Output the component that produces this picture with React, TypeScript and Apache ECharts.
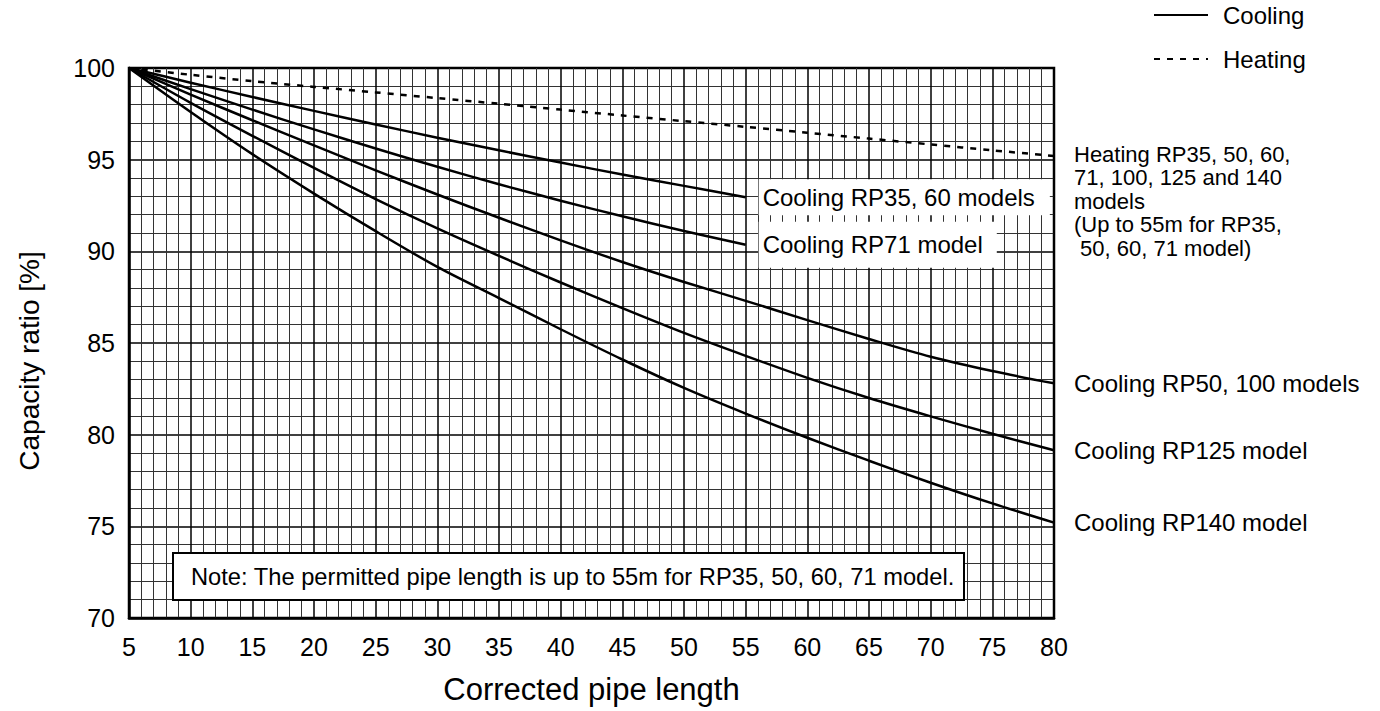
import React, { useEffect, useRef } from "react";
import * as echarts from "echarts";

const pipeLengths = [5, 10, 15, 20, 25, 30, 35, 40, 45, 50, 55, 60, 65, 70, 75, 80];

const heatingAll = [100, 99.63, 99.28, 98.97, 98.67, 98.36, 98.05, 97.73, 97.41, 97.1, 96.79, 96.47, 96.15, 95.83, 95.51, 95.2];
const coolingRP35_60 = [100, 99.2, 98.42, 97.66, 96.92, 96.2, 95.51, 94.84, 94.19, 93.57, 92.95];
const coolingRP71 = [100, 98.85, 97.73, 96.65, 95.61, 94.61, 93.66, 92.76, 91.91, 91.11, 90.36];
const coolingRP50_100 = [100, 98.55, 97.15, 95.78, 94.42, 93.1, 91.83, 90.6, 89.42, 88.33, 87.3, 86.25, 85.22, 84.25, 83.47, 82.8];
const coolingRP125 = [100, 98.1, 96.3, 94.55, 92.85, 91.25, 89.75, 88.3, 86.9, 85.55, 84.3, 83.1, 82.0, 81.0, 80.05, 79.15];
const coolingRP140 = [100, 97.6, 95.3, 93.15, 91.1, 89.15, 87.45, 85.75, 84.1, 82.55, 81.15, 79.83, 78.58, 77.38, 76.25, 75.2];

const labelHeating = "Heating RP35, 50, 60,\n71, 100, 125 and 140\nmodels\n(Up to 55m for RP35,\n 50, 60, 71 model)";
const labelRP35_60 = "Cooling RP35, 60 models";
const labelRP71 = "Cooling RP71 model";
const labelRP50_100 = "Cooling RP50, 100 models";
const labelRP125 = "Cooling RP125 model";
const labelRP140 = "Cooling RP140 model";
const noteText = "Note: The permitted pipe length is up to 55m for RP35, 50, 60, 71 model.";

const FONT = "'Liberation Sans', Arial, Helvetica, sans-serif";

function pairs(ys: number[]) {
  return ys.map((y, i) => [pipeLengths[i], y]);
}

export default function App() {
  const ref = useRef<HTMLDivElement>(null);
  useEffect(() => {
    if (!ref.current) return;
    const chart = echarts.init(ref.current, null, { renderer: "svg" });

    const coolingLine = { color: "#000", width: 2.5, type: "solid" as const };
    const outsideLabel = (text: string) => ({
      show: true,
      formatter: text,
      distance: 20,
      fontSize: 24,
      color: "#000",
      fontFamily: FONT,
    });
    const insideLabel = (text: string, padRight: number, padV: number) => ({
      show: true,
      formatter: text,
      distance: 13,
      fontSize: 24,
      color: "#000",
      fontFamily: FONT,
      backgroundColor: "#fff",
      padding: [padV, padRight, padV, 4],
    });

    const cooling = (data: number[], endLabel: any) => ({
      name: "Cooling",
      type: "line",
      data: pairs(data),
      symbol: "none",
      smooth: 0.3,
      lineStyle: coolingLine,
      itemStyle: { color: "#000" },
      endLabel,
      z: 3,
    });

    chart.setOption({
      animation: false,
      textStyle: { fontFamily: FONT, color: "#000" },
      grid: {
        left: 129,
        right: 326,
        top: 68,
        bottom: 93,
        show: true,
        borderColor: "#000",
        borderWidth: 2.5,
        backgroundColor: "transparent",
      },
      legend: {
        data: ["Cooling", "Heating"],
        orient: "vertical",
        left: 1153,
        top: 3,
        padding: 0,
        itemWidth: 54,
        itemHeight: 14,
        itemGap: 20,
        selectedMode: false,
        itemStyle: { color: "transparent", borderColor: "transparent", borderWidth: 0, opacity: 0 },
        textStyle: { fontSize: 24, color: "#000", fontFamily: FONT, padding: [0, 0, 0, 10] },
      },
      xAxis: {
        type: "value",
        min: 5,
        max: 80,
        interval: 5,
        name: "Corrected pipe length",
        nameLocation: "middle",
        nameGap: 56,
        nameTextStyle: { fontSize: 31, color: "#000", fontFamily: FONT },
        axisLine: { show: true, lineStyle: { color: "#000", width: 2.5 } },
        axisTick: { show: false },
        axisLabel: { fontSize: 25, color: "#000", margin: 16, fontFamily: FONT },
        splitLine: { show: true, lineStyle: { color: "#000", width: 1.5 } },
        minorTick: { show: false, splitNumber: 5 },
        minorSplitLine: { show: true, lineStyle: { color: "#333", width: 1 } },
      },
      yAxis: {
        type: "value",
        min: 70,
        max: 100,
        interval: 5,
        name: "Capacity ratio [%]",
        nameLocation: "middle",
        nameGap: 86,
        nameTextStyle: { fontSize: 28, color: "#000", fontFamily: FONT, padding: [0, 36, 0, 0] },
        axisLine: { show: true, lineStyle: { color: "#000", width: 2.5 } },
        axisTick: { show: false },
        axisLabel: { fontSize: 25, color: "#000", margin: 14, fontFamily: FONT },
        splitLine: { show: true, lineStyle: { color: "#000", width: 1.5 } },
        minorTick: { show: false, splitNumber: 5 },
        minorSplitLine: { show: true, lineStyle: { color: "#333", width: 1 } },
      },
      series: [
        cooling(coolingRP35_60, insideLabel(labelRP35_60, 15, 6)),
        cooling(coolingRP71, insideLabel(labelRP71, 14, 11)),
        cooling(coolingRP50_100, outsideLabel(labelRP50_100)),
        cooling(coolingRP125, outsideLabel(labelRP125)),
        cooling(coolingRP140, outsideLabel(labelRP140)),
        {
          name: "Heating",
          type: "line",
          data: pairs(heatingAll),
          symbol: "none",
          smooth: 0.3,
          lineStyle: { color: "#000", width: 2.5, type: [6, 7] },
          itemStyle: { color: "#000" },
          endLabel: {
            show: true,
            formatter: labelHeating,
            distance: 20,
            fontSize: 22,
            lineHeight: 23.5,
            color: "#000",
            fontFamily: FONT,
            offset: [0, 45],
          },
          z: 3,
        },
      ],
      graphic: [
        {
          type: "group",
          left: 172,
          top: 552,
          z: 50,
          children: [
            {
              type: "rect",
              shape: { x: 0, y: 0, width: 791, height: 47 },
              style: { fill: "#fff", stroke: "#000", lineWidth: 2 },
              z: 50,
            },
            {
              type: "text",
              x: 18,
              y: 24,
              style: {
                text: noteText,
                fontSize: 23.7,
                fill: "#000",
                fontFamily: FONT,
                verticalAlign: "middle",
              },
              z: 51,
            },
          ],
        },
      ],
    });
    return () => chart.dispose();
  }, []);
  return (
    <div
      ref={ref}
      style={{ position: "fixed", left: 0, top: 0, width: 1380, height: 711, background: "#fff" }}
    />
  );
}
